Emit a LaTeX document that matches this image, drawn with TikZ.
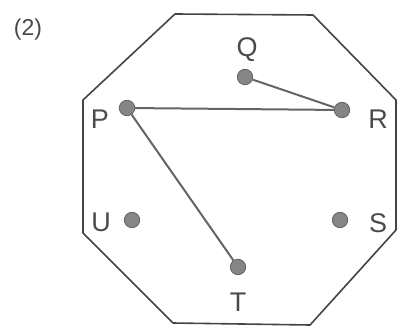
\documentclass[tikz,border=0pt]{standalone}
\usepackage{fontspec}
\setmainfont{Liberation Sans}
\usetikzlibrary{positioning}
\definecolor{dotgray}{HTML}{858585}
\definecolor{linegray}{HTML}{646464}
\definecolor{rimgray}{HTML}{444444}
\definecolor{txtgray}{HTML}{4A4A4A}
\tikzset{
  spot/.style ={circle, fill=dotgray, draw=dotgray!70!black, minimum size=15.5pt,
                inner sep=0pt, line width=0.7pt},
  tag/.style  ={font=\fontsize{27}{32}\selectfont, text=txtgray, inner sep=0pt},
  link/.style ={draw=linegray, line width=2pt},
  rim/.style  ={draw=rimgray, line width=1.6pt, line join=round},
}

\begin{document}
\begin{tikzpicture}[x=1pt,y=-1pt]
  \useasboundingbox (0,0) rectangle (398,328);
  % outline
  \draw[rim] (175,14)--(313,15)--(396,100)--(396,230)--(310,325)
             --(173,323)--(83,233)--(83,100)--cycle;
  \node[tag,font=\fontsize{23}{27}\selectfont] (num) at (28,30) {(2)};
  % points
  \node[spot] (p) at (127,108) {};
  \node[spot] (q) at (245,77) {};
  \node[spot] (r) at (342,110) {};
  \node[spot] (s) at (340,220) {};
  \node[spot] (t) at (238,267) {};
  \node[spot] (u) at (132,220) {};
  \node[tag] (lp) at (100,119) {P};
  \node[tag] (lq) at (247,50) {Q};
  \node[tag] (lr) at (378,119) {R};
  \node[tag] (ls) at (378,223) {S};
  \node[tag] (lt) at (238,302) {T};
  \node[tag] (lu) at (101,222) {U};
  % ties
  \draw[link] (q) -- (r);
  \draw[link] (p) -- (r);
  \draw[link] (p) -- (t);
\end{tikzpicture}
\end{document}
